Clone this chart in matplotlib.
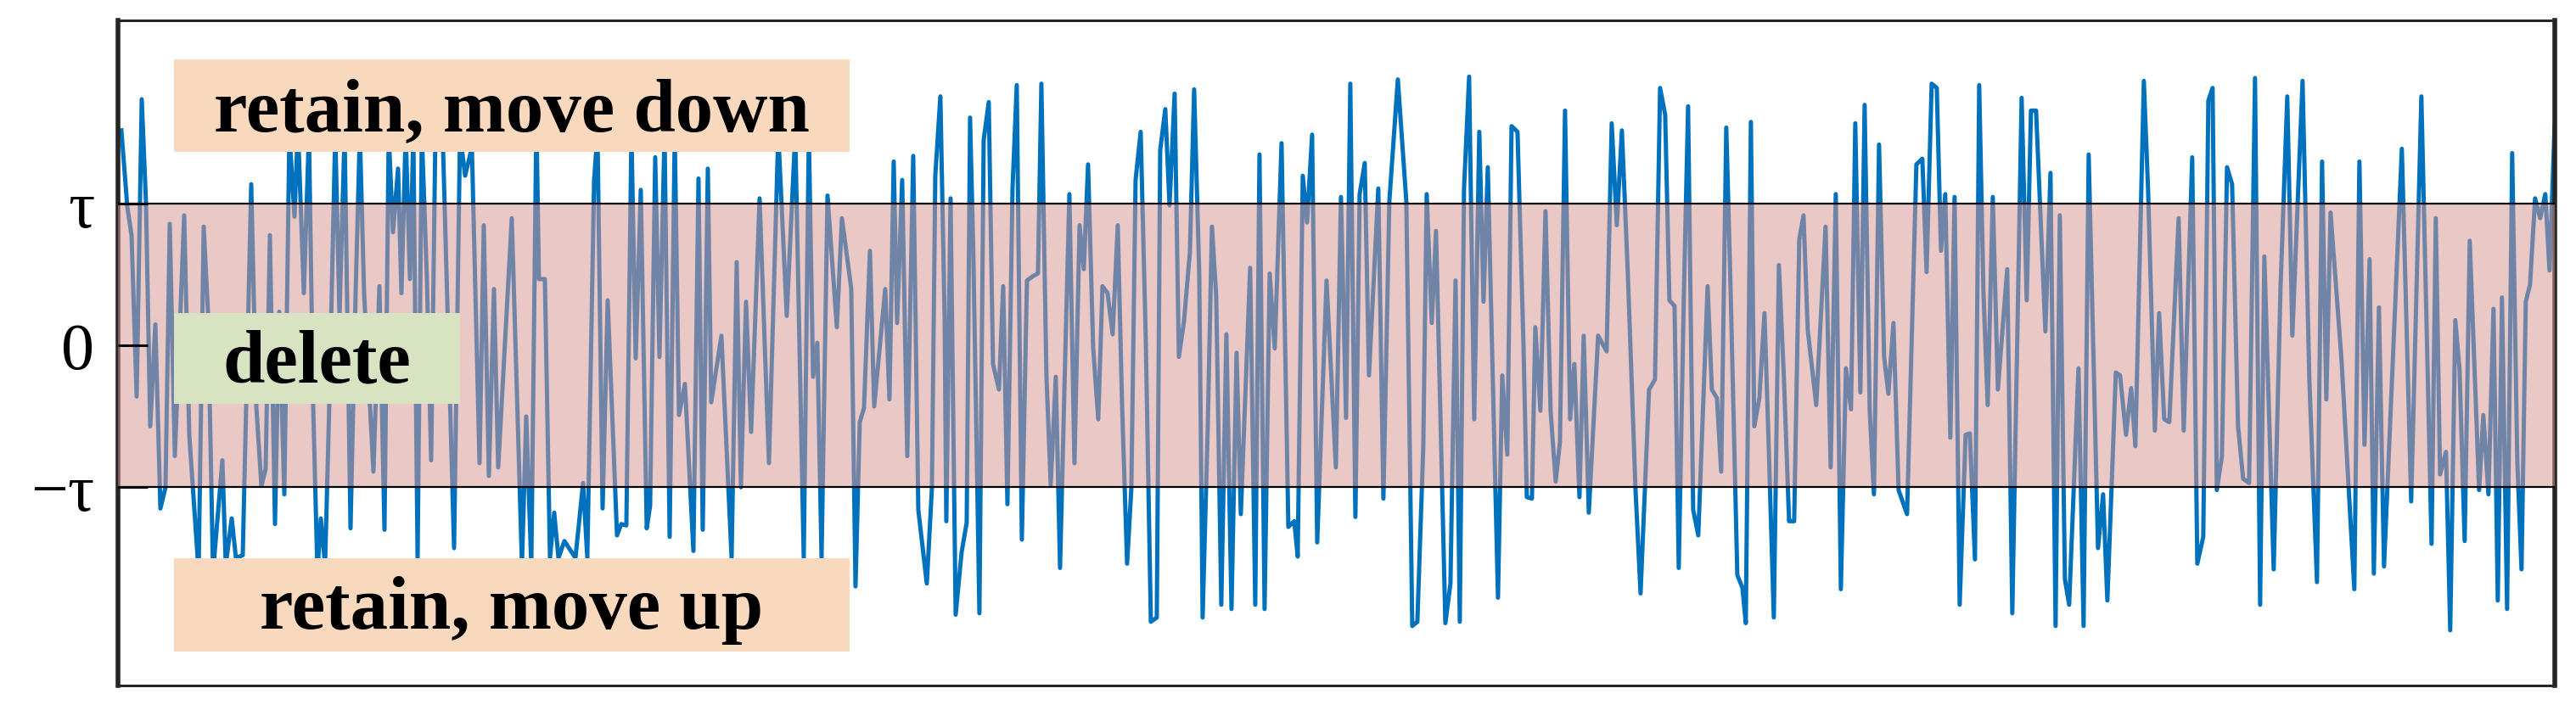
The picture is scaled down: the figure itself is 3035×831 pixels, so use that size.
import matplotlib
matplotlib.use("Agg")
import matplotlib.pyplot as plt
from matplotlib.patches import Rectangle

plt.rcParams['font.family'] = ['Liberation Serif', 'DejaVu Serif']

# signal samples (t = sample position, v in units of tau)
t = [3, 10, 15, 21, 27, 32, 37, 43, 49, 55, 60, 66, 77, 83, 94, 100, 105, 111, 122, 126,
     133, 138, 146, 156, 162, 168, 173, 178, 184, 189, 195, 201, 207, 211, 218, 224, 229, 234, 238, 243,
     248, 255, 260, 266, 273, 279, 284, 289, 300, 307, 313, 318, 323, 329, 333, 338, 343, 347, 352, 357,
     363, 368, 373, 382, 395, 402, 408, 416, 425, 430, 436, 442, 447, 463, 475, 480, 486, 492, 495, 502,
     508, 513, 518, 525, 538, 547, 552, 560, 564, 570, 576, 587, 592, 598, 604, 609, 615, 622, 626, 632,
     637, 643, 649, 655, 660, 667, 677, 683, 688, 694, 698, 710, 722, 728, 733, 739, 745, 755, 766, 777,
     787, 797, 807, 813, 818, 823, 828, 835, 846, 852, 863, 868, 873, 878, 885, 890, 903, 908, 913, 917,
     923, 929, 936, 942, 952, 958, 962, 968, 973, 975, 980, 986, 993, 999, 1003, 1007, 1014, 1019, 1025, 1030,
     1037, 1042, 1047, 1053, 1058, 1064, 1070, 1077, 1083, 1087, 1093, 1098, 1104, 1109, 1115, 1120, 1126, 1132, 1137, 1142,
     1148, 1154, 1159, 1165, 1171, 1177, 1182, 1188, 1193, 1198, 1204, 1210, 1216, 1223, 1227, 1233, 1238, 1244, 1249, 1255,
     1262, 1267, 1273, 1277, 1283, 1288, 1293, 1299, 1305, 1311, 1317, 1322, 1333, 1339, 1344, 1350, 1356, 1362, 1370, 1378,
     1385, 1389, 1395, 1400, 1406, 1412, 1423, 1434, 1440, 1446, 1451, 1457, 1462, 1468, 1473, 1484, 1490, 1497, 1507, 1517,
     1524, 1530, 1537, 1541, 1547, 1552, 1563, 1569, 1575, 1580, 1585, 1591, 1597, 1603, 1608, 1613, 1625, 1630, 1636, 1641,
     1648, 1655, 1659, 1665, 1669, 1675, 1681, 1687, 1693, 1698, 1704, 1710, 1715, 1721, 1726, 1732, 1743, 1753, 1759, 1765,
     1771, 1778, 1787, 1793, 1803, 1810, 1816, 1822, 1827, 1833, 1838, 1844, 1849, 1855, 1861, 1872, 1877, 1883, 1888, 1894,
     1899, 1907, 1913, 1917, 1923, 1927, 1933, 1939, 1944, 1950, 1956, 1962, 1968, 1974, 1980, 1985, 1990, 2000, 2011, 2017,
     2023, 2029, 2035, 2041, 2046, 2052, 2057, 2063, 2068, 2074, 2080, 2085, 2091, 2097, 2107, 2118, 2125, 2130, 2136, 2142,
     2147, 2152, 2158, 2163, 2169, 2176, 2181, 2187, 2192, 2197, 2202, 2208, 2214, 2225, 2231, 2242, 2248, 2253, 2259, 2270,
     2276, 2282, 2287, 2293, 2298, 2309, 2315, 2321, 2332, 2338, 2343, 2353, 2358, 2365, 2371, 2376, 2386, 2391, 2399, 2404,
     2410, 2416, 2427, 2433, 2443, 2449, 2456, 2462, 2467, 2472, 2478, 2484, 2490, 2497, 2503, 2510, 2517, 2523, 2528, 2539,
     2547, 2555, 2561, 2573, 2581, 2590, 2596, 2601, 2606, 2619, 2634, 2640, 2646, 2652, 2657, 2663, 2669, 2690, 2701, 2713,
     2725, 2730, 2735, 2742, 2747, 2753, 2758, 2764, 2770, 2781, 2786, 2792, 2798, 2803, 2808, 2814, 2820, 2826, 2831, 2836,
     2841, 2847, 2853, 2859, 2864, 2870]
v = [1.52, 0.98, 0.78, -0.36, 1.74, 1.01, -0.57, 0.15, -1.15, -1.00, 0.86, -0.78, 0.92, -0.63, -1.60, 0.84, 0.24, -1.60, -0.81, -1.55,
     -1.22, -1.50, -1.48, 1.14, -0.43, -0.99, -0.87, 0.78, -1.26, 0.24, -1.05, 1.50, 0.91, 1.55, 0.37, 1.50, -0.43, -1.60, -1.22, -1.55,
     -0.41, 1.50, 0.21, 1.50, -1.29, 0.37, 1.50, 0.37, -0.89, 0.42, -1.30, 1.50, 0.80, 1.25, 0.37, 1.50, 0.47, 1.50, -1.50, 1.50,
     0.47, -0.81, 1.50, 1.40, -1.43, 1.50, 1.20, 1.40, -0.83, 0.85, -0.92, 0.40, -0.86, 0.90, -1.55, -0.50, -1.55, 1.60, 0.47, 0.47,
     -1.50, -1.18, -1.50, -1.38, -1.50, -0.97, -1.50, 1.17, 1.50, -1.15, 0.32, -1.34, -1.26, -1.27, 1.50, -0.09, 1.10, -1.29, -1.13, 1.33,
     -0.08, 1.50, -1.35, 1.50, -0.49, -0.27, -1.45, 1.18, -1.30, 1.25, -0.40, 0.07, -1.50, 0.59, -1.00, 0.31, -0.61, 1.04, -0.83, 1.50,
     0.21, 1.50, -1.50, 1.50, -0.22, 0.02, -1.50, 1.06, 0.13, 0.90, 0.40, -1.70, -0.54, -0.44, 0.67, -0.43, 0.40, -0.38, 1.30, 0.16,
     1.17, -0.78, 1.34, -1.16, -1.68, -1.01, 1.20, 1.76, 0.20, -1.24, 1.04, -1.90, -1.46, -1.25, 1.61, 0.60, -1.89, 1.45, 1.72, -0.13,
     -0.31, 0.42, -1.12, 1.11, 1.84, -1.37, 0.46, 0.49, 0.51, 1.85, -0.22, -0.98, -0.22, -1.57, -0.10, 1.07, -0.83, 0.85, 0.54, 1.28,
     -0.01, -0.52, 0.42, 0.37, 0.08, 0.85, -0.40, -1.54, -1.01, 1.17, 1.51, 0.05, -1.95, -1.92, 1.38, 1.67, 0.99, 1.78, -0.08, 0.17,
     0.66, 1.81, 0.51, -1.92, -0.58, 0.84, 0.35, -1.83, 0.08, -1.86, -0.05, -1.19, 0.55, -1.83, 1.35, -1.86, 0.51, -0.02, 1.43, -1.28,
     -1.24, -1.49, 1.20, 0.87, 1.49, -1.39, 0.46, -0.86, 1.05, -0.51, 1.85, -1.21, 1.07, 1.29, -0.21, 1.11, -1.08, 1.02, 1.88, 1.02,
     -1.98, -1.95, -0.71, 1.07, 0.16, 0.81, -1.96, -1.68, 0.46, -1.95, 1.11, 1.90, -0.52, 1.51, 0.31, 1.26, -1.78, -0.21, -0.77, 1.55,
     1.51, 0.02, -1.07, -1.08, 0.13, -0.46, 0.95, -0.46, -0.96, -0.68, 1.66, -0.52, -0.13, -1.07, 0.07, -1.18, 0.07, -0.04, 1.57, 0.85,
     1.52, 0.51, -1.01, -1.75, -0.31, -0.24, 1.82, 1.63, 0.32, 0.28, -1.57, 0.35, 1.69, -1.16, -1.34, 0.42, -0.31, -0.37, -0.89, 1.54,
     0.42, -1.62, -1.71, -1.96, 1.58, -0.57, -0.37, 0.23, -0.71, -1.92, 0.57, -0.24, -1.24, -1.24, 0.75, 0.92, 0.11, -0.42, 0.84, -0.86,
     1.07, -1.72, -0.16, -0.45, 1.57, -0.33, 1.70, -0.46, -1.05, 1.42, -0.08, -0.34, 0.16, -1.02, -1.19, 1.28, 1.32, 0.52, 1.85, 1.82,
     0.67, 1.07, -0.65, 1.05, -1.83, -0.63, -0.62, -1.51, 1.84, 0.38, -0.42, 1.05, -0.31, 0.54, -1.89, 1.75, 0.32, 1.66, 1.66, 0.10,
     1.22, -1.98, 0.92, -1.65, -1.83, -0.16, -1.98, 1.35, -1.43, -1.05, -1.80, -0.19, -0.21, -0.63, -0.30, -0.71, 1.87, 1.10, -0.60, 0.23,
     -0.52, -0.54, 0.90, -0.60, 1.33, -1.54, -1.35, 1.73, 1.82, -1.02, -0.78, 1.26, 1.14, -0.57, -0.94, -0.97, 1.89, -1.83, 0.63, -1.58,
     0.40, 1.76, 0.07, 1.87, -0.24, -1.67, 1.30, -0.38, 0.94, -0.11, -1.72, 1.30, -0.70, 0.61, -1.61, 0.27, -1.56, 1.39, -1.10, 1.76,
     -1.40, 0.90, -0.91, -0.75, -2.01, 0.18, -0.17, -1.38, 0.74, -1.02, -0.49, -1.05, 0.26, -1.80, 0.34, -1.86, 1.36, -0.81, -1.58, 0.31,
     0.43, 1.04, 0.90, 1.07, 0.53, 1.55]

tau = 1.0
ytick_vals = [-tau, 0, tau]
ytick_text = ['\u2212\u03c4', '0', '\u03c4']
label_down = 'retain, move down'
label_up = 'retain, move up'
label_del = 'delete'

line_color = '#0072BD'
band_color = '#D79692'
peach = '#F9D9BD'
green = '#D8E3C1'

fig = plt.figure(figsize=(30.35, 8.31), dpi=100)
ax = fig.add_axes([0.0458, 0.0277, 0.9459, 0.944])

ax.plot(t, v, color=line_color, lw=3.6, zorder=2)

# deletion band between -tau and tau, drawn over the signal
ax.axhspan(-tau, tau, color=band_color, alpha=0.52, lw=0, zorder=3)
ax.axhline(tau, color='black', lw=1.6, zorder=3.2)
ax.axhline(-tau, color='black', lw=1.6, zorder=3.2)

# annotation boxes
ax.add_patch(Rectangle((65, 1.37), 796, 0.65, facecolor=peach, edgecolor='none', zorder=4))
ax.add_patch(Rectangle((65, -2.16), 796, 0.66, facecolor=peach, edgecolor='none', zorder=4))
ax.add_patch(Rectangle((65, -0.41), 337, 0.64, facecolor=green, edgecolor='none', zorder=4))
ax.text(463, 1.516, label_down, ha='center', va='baseline', fontsize=64, fontweight='bold', zorder=5)
ax.text(463, -2.0, label_up, ha='center', va='baseline', fontsize=64, fontweight='bold', zorder=5)
ax.text(233, -0.257, label_del, ha='center', va='baseline', fontsize=64, fontweight='bold', zorder=5)

ax.set_xlim(-1, 2870)
ax.set_ylim(-2.40, 2.30)
ax.set_xticks([])
ax.set_yticks(ytick_vals, ytick_text)
ax.tick_params(axis='y', direction='in', length=25, width=2.2, pad=20, labelsize=56, color='black')
ax.yaxis.set_zorder(6)

for side in ['top', 'bottom']:
    ax.spines[side].set_linewidth(2.2)
for side in ['left', 'right']:
    ax.spines[side].set_linewidth(4.0)
for sp in ax.spines.values():
    sp.set_color('#262626')
    sp.set_zorder(2.5)

fig.savefig('out.png', dpi=100)
